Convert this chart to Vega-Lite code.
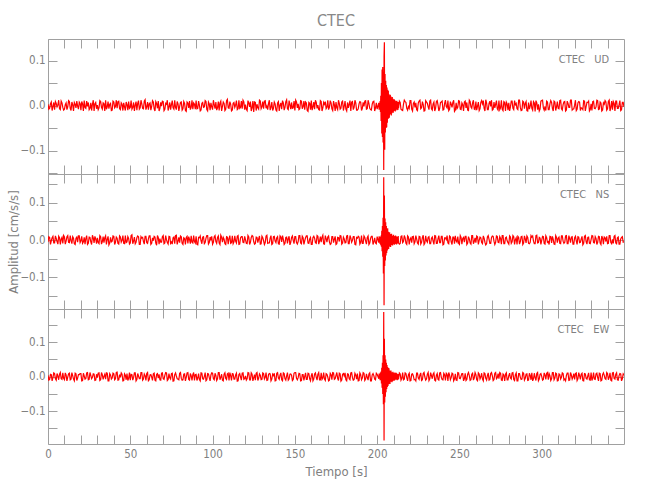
{
"$schema": "https://vega.github.io/schema/vega-lite/v6.json",
"padding": {"left": 7, "top": 12, "right": 6, "bottom": 6},
"bounds": "flush",
"spacing": 0,
"title": {"text": "CTEC", "fontSize": 16, "fontWeight": "normal", "color": "#888888", "font": "Liberation Sans Narrow, DejaVu Sans Condensed, Liberation Sans, sans-serif", "anchor": "middle", "frame": "group", "offset": 10},
"config": {
  "view": {"stroke": null},
  "axis": {"grid": false, "domainColor": "#a0a0a0", "tickColor": "#a0a0a0", "domainWidth": 1, "tickWidth": 1, "labelColor": "#808080", "titleColor": "#808080", "labelFont": "Liberation Sans Narrow, DejaVu Sans Condensed, Liberation Sans, sans-serif", "titleFont": "Liberation Sans Narrow, DejaVu Sans Condensed, Liberation Sans, sans-serif", "labelFontSize": 11.5, "titleFontSize": 13, "titleFontWeight": "normal", "labelOverlap": false, "labelFlush": false, "labelBound": false}
},
"data": {"values": [
{"t":0,"u":0.003,"n":-0.005,"e":0.004},
{"t":1,"u":-0.006,"n":0.007,"e":-0.008},
{"t":2,"u":0.008,"n":-0.002,"e":0.006},
{"t":3,"u":-0.002,"n":0.010,"e":-0.003},
{"t":4,"u":-0.009,"n":-0.008,"e":0.009},
{"t":5,"u":0.005,"n":0.004,"e":-0.010},
{"t":6,"u":0.001,"n":-0.011,"e":0.002},
{"t":7,"u":-0.007,"n":0.006,"e":0.007},
{"t":8,"u":0.010,"n":0.002,"e":-0.006},
{"t":9,"u":-0.004,"n":-0.009,"e":0.011},
{"t":10,"u":-0.008,"n":0.008,"e":-0.009},
{"t":11,"u":0.006,"n":-0.003,"e":0.005},
{"t":12,"u":-0.003,"n":0.012,"e":-0.001},
{"t":13,"u":0.009,"n":-0.007,"e":0.010},
{"t":14,"u":-0.011,"n":-0.001,"e":-0.007},
{"t":15,"u":0.002,"n":0.009,"e":0.003},
{"t":16,"u":0.007,"n":-0.010,"e":-0.012},
{"t":17,"u":-0.005,"n":0.005,"e":0.008},
{"t":18,"u":-0.001,"n":-0.006,"e":-0.004},
{"t":19,"u":0.008,"n":0.011,"e":0.006},
{"t":20,"u":-0.010,"n":-0.002,"e":0.009},
{"t":21,"u":0.004,"n":-0.009,"e":-0.011},
{"t":22,"u":0.011,"n":0.007,"e":0.002},
{"t":23,"u":-0.006,"n":0.004,"e":-0.005},
{"t":24,"u":-0.002,"n":-0.012,"e":0.012},
{"t":25,"u":-0.009,"n":0.008,"e":-0.008},
{"t":26,"u":0.006,"n":-0.005,"e":0.004},
{"t":27,"u":0.003,"n":0.013,"e":-0.002},
{"t":28,"u":-0.012,"n":-0.008,"e":0.007},
{"t":29,"u":0.007,"n":0.003,"e":-0.010},
{"t":30,"u":0.001,"n":0.006,"e":-0.003},
{"t":31,"u":-0.005,"n":-0.010,"e":0.011},
{"t":32,"u":0.009,"n":0.009,"e":-0.009},
{"t":33,"u":-0.008,"n":-0.004,"e":0.006},
{"t":34,"u":0.004,"n":-0.007,"e":0.001},
{"t":35,"u":0.012,"n":0.011,"e":-0.007},
{"t":36,"u":-0.003,"n":0.002,"e":0.010},
{"t":37,"u":-0.007,"n":-0.013,"e":-0.012},
{"t":38,"u":0.005,"n":0.007,"e":0.005},
{"t":39,"u":-0.010,"n":-0.003,"e":-0.004},
{"t":40,"u":0.008,"n":0.010,"e":0.008},
{"t":41,"u":-0.002,"n":-0.006,"e":-0.006},
{"t":42,"u":-0.006,"n":0.005,"e":0.013},
{"t":43,"u":0.010,"n":-0.011,"e":-0.009},
{"t":44,"u":-0.009,"n":0.008,"e":-0.002},
{"t":45,"u":0.003,"n":-0.001,"e":0.007},
{"t":46,"u":0.006,"n":-0.009,"e":-0.011},
{"t":47,"u":-0.011,"n":0.012,"e":0.004},
{"t":48,"u":0.002,"n":-0.005,"e":0.009},
{"t":49,"u":0.009,"n":0.004,"e":-0.005},
{"t":50,"u":-0.004,"n":-0.008,"e":-0.010},
{"t":51,"u":-0.008,"n":0.014,"e":0.006},
{"t":52,"u":0.007,"n":-0.003,"e":-0.003},
{"t":53,"u":0.001,"n":-0.010,"e":0.011},
{"t":54,"u":-0.010,"n":0.006,"e":-0.008},
{"t":55,"u":0.011,"n":0.009,"e":0.002},
{"t":56,"u":-0.005,"n":-0.012,"e":-0.006},
{"t":57,"u":0.004,"n":0.005,"e":0.012},
{"t":58,"u":-0.007,"n":-0.004,"e":-0.007},
{"t":59,"u":0.013,"n":0.010,"e":0.003},
{"t":60,"u":-0.003,"n":-0.007,"e":0.009},
{"t":61,"u":-0.009,"n":0.003,"e":-0.012},
{"t":62,"u":0.006,"n":0.011,"e":0.005},
{"t":63,"u":-0.002,"n":-0.009,"e":-0.001},
{"t":64,"u":0.008,"n":-0.002,"e":0.008},
{"t":65,"u":-0.012,"n":0.008,"e":-0.010},
{"t":66,"u":0.005,"n":-0.014,"e":0.007},
{"t":67,"u":0.010,"n":0.007,"e":-0.004},
{"t":68,"u":-0.006,"n":0.004,"e":-0.009},
{"t":69,"u":-0.001,"n":-0.006,"e":0.010},
{"t":70,"u":0.009,"n":0.012,"e":-0.006},
{"t":71,"u":-0.008,"n":-0.008,"e":0.004},
{"t":72,"u":0.003,"n":0.001,"e":0.011},
{"t":73,"u":-0.011,"n":-0.011,"e":-0.008},
{"t":74,"u":0.007,"n":0.009,"e":-0.003},
{"t":75,"u":0.002,"n":-0.005,"e":0.009},
{"t":76,"u":-0.005,"n":0.006,"e":-0.013},
{"t":77,"u":0.012,"n":-0.010,"e":0.006},
{"t":78,"u":-0.009,"n":0.013,"e":0.002},
{"t":79,"u":0.004,"n":-0.003,"e":-0.007},
{"t":80,"u":-0.002,"n":-0.007,"e":0.010},
{"t":81,"u":0.008,"n":0.009,"e":-0.005},
{"t":82,"u":-0.007,"n":-0.012,"e":-0.009},
{"t":83,"u":0.005,"n":0.004,"e":0.008},
{"t":84,"u":-0.013,"n":0.007,"e":-0.002},
{"t":85,"u":0.006,"n":-0.009,"e":0.012},
{"t":86,"u":0.010,"n":0.002,"e":-0.010},
{"t":87,"u":-0.004,"n":0.011,"e":0.003},
{"t":88,"u":-0.008,"n":-0.008,"e":0.006},
{"t":89,"u":0.003,"n":-0.004,"e":-0.011},
{"t":90,"u":0.011,"n":0.010,"e":0.007},
{"t":91,"u":-0.006,"n":-0.013,"e":-0.004},
{"t":92,"u":0.001,"n":0.006,"e":-0.008},
{"t":93,"u":-0.010,"n":-0.002,"e":0.011},
{"t":94,"u":0.007,"n":0.008,"e":-0.006},
{"t":95,"u":-0.003,"n":-0.010,"e":0.001},
{"t":96,"u":0.009,"n":0.005,"e":-0.012},
{"t":97,"u":-0.012,"n":0.012,"e":0.009},
{"t":98,"u":0.004,"n":-0.007,"e":-0.003},
{"t":99,"u":0.006,"n":0.001,"e":0.005},
{"t":100,"u":-0.009,"n":-0.011,"e":0.010},
{"t":101,"u":0.002,"n":0.009,"e":-0.009},
{"t":102,"u":0.008,"n":-0.004,"e":0.004},
{"t":103,"u":-0.005,"n":0.007,"e":-0.006},
{"t":104,"u":-0.011,"n":-0.008,"e":0.012},
{"t":105,"u":0.010,"n":0.013,"e":-0.002},
{"t":106,"u":-0.002,"n":-0.006,"e":-0.010},
{"t":107,"u":0.005,"n":0.002,"e":0.007},
{"t":108,"u":-0.008,"n":-0.012,"e":-0.005},
{"t":109,"u":0.014,"n":0.008,"e":0.008},
{"t":110,"u":-0.006,"n":0.004,"e":-0.011},
{"t":111,"u":0.003,"n":-0.009,"e":0.003},
{"t":112,"u":-0.010,"n":0.011,"e":0.009},
{"t":113,"u":0.007,"n":-0.005,"e":-0.007},
{"t":114,"u":0.001,"n":-0.003,"e":0.005},
{"t":115,"u":-0.009,"n":0.010,"e":-0.013},
{"t":116,"u":0.012,"n":-0.012,"e":0.006},
{"t":117,"u":-0.004,"n":0.006,"e":-0.001},
{"t":118,"u":-0.007,"n":0.009,"e":0.010},
{"t":119,"u":0.008,"n":-0.007,"e":-0.008},
{"t":120,"u":0.002,"n":0.001,"e":0.002},
{"t":121,"u":-0.011,"n":-0.010,"e":-0.006},
{"t":122,"u":0.006,"n":0.008,"e":0.011},
{"t":123,"u":0.009,"n":-0.006,"e":-0.009},
{"t":124,"u":-0.005,"n":0.012,"e":0.007},
{"t":125,"u":-0.014,"n":-0.004,"e":-0.003},
{"t":126,"u":0.007,"n":-0.009,"e":-0.010},
{"t":127,"u":0.003,"n":0.007,"e":0.012},
{"t":128,"u":-0.008,"n":0.003,"e":-0.005},
{"t":129,"u":0.010,"n":-0.011,"e":0.004},
{"t":130,"u":-0.003,"n":0.010,"e":-0.008},
{"t":131,"u":-0.007,"n":-0.002,"e":0.009},
{"t":132,"u":0.011,"n":-0.007,"e":-0.002},
{"t":133,"u":-0.001,"n":0.013,"e":-0.011},
{"t":134,"u":0.005,"n":-0.008,"e":0.006},
{"t":135,"u":-0.010,"n":0.005,"e":0.008},
{"t":136,"u":0.008,"n":-0.012,"e":-0.007},
{"t":137,"u":-0.006,"n":0.009,"e":0.003},
{"t":138,"u":0.004,"n":-0.003,"e":-0.012},
{"t":139,"u":-0.012,"n":0.006,"e":0.010},
{"t":140,"u":0.009,"n":-0.010,"e":-0.004},
{"t":141,"u":0.001,"n":0.011,"e":0.005},
{"t":142,"u":-0.008,"n":-0.005,"e":-0.009},
{"t":143,"u":0.006,"n":0.002,"e":0.011},
{"t":144,"u":-0.004,"n":-0.009,"e":-0.006},
{"t":145,"u":0.013,"n":0.008,"e":0.002},
{"t":146,"u":-0.009,"n":0.004,"e":-0.010},
{"t":147,"u":0.002,"n":-0.013,"e":0.007},
{"t":148,"u":0.007,"n":0.007,"e":0.004},
{"t":149,"u":-0.005,"n":-0.001,"e":-0.008},
{"t":150,"u":-0.011,"n":0.009,"e":0.012},
{"t":151,"u":0.008,"n":-0.007,"e":-0.005},
{"t":152,"u":0.004,"n":-0.004,"e":-0.003},
{"t":153,"u":-0.007,"n":0.012,"e":0.009},
{"t":154,"u":0.010,"n":-0.010,"e":-0.011},
{"t":155,"u":-0.002,"n":0.006,"e":0.006},
{"t":156,"u":-0.009,"n":-0.002,"e":0.001},
{"t":157,"u":0.006,"n":0.011,"e":-0.008},
{"t":158,"u":-0.013,"n":-0.008,"e":0.010},
{"t":159,"u":0.005,"n":0.003,"e":-0.006},
{"t":160,"u":0.011,"n":-0.012,"e":0.003},
{"t":161,"u":-0.003,"n":0.007,"e":-0.012},
{"t":162,"u":-0.008,"n":0.005,"e":0.008},
{"t":163,"u":0.007,"n":-0.009,"e":-0.002},
{"t":164,"u":0.001,"n":0.010,"e":0.007},
{"t":165,"u":-0.010,"n":-0.003,"e":-0.009},
{"t":166,"u":0.009,"n":-0.006,"e":0.011},
{"t":167,"u":-0.005,"n":0.013,"e":-0.004},
{"t":168,"u":0.003,"n":-0.011,"e":-0.007},
{"t":169,"u":-0.007,"n":0.004,"e":0.009},
{"t":170,"u":0.012,"n":0.008,"e":-0.001},
{"t":171,"u":-0.004,"n":-0.005,"e":-0.010},
{"t":172,"u":0.006,"n":-0.010,"e":0.006},
{"t":173,"u":-0.011,"n":0.009,"e":0.012},
{"t":174,"u":0.002,"n":0.002,"e":-0.008},
{"t":175,"u":0.008,"n":-0.012,"e":0.004},
{"t":176,"u":-0.009,"n":0.007,"e":-0.005},
{"t":177,"u":0.005,"n":-0.004,"e":0.010},
{"t":178,"u":-0.006,"n":0.011,"e":-0.013},
{"t":179,"u":0.010,"n":-0.008,"e":0.007},
{"t":180,"u":-0.001,"n":0.003,"e":0.002},
{"t":181,"u":-0.008,"n":-0.007,"e":-0.009},
{"t":182,"u":0.007,"n":0.012,"e":0.008},
{"t":183,"u":0.003,"n":-0.010,"e":-0.006},
{"t":184,"u":-0.012,"n":0.006,"e":0.011},
{"t":185,"u":0.009,"n":-0.001,"e":-0.003},
{"t":186,"u":-0.004,"n":0.009,"e":-0.008},
{"t":187,"u":0.006,"n":-0.013,"e":0.005},
{"t":188,"u":-0.010,"n":0.005,"e":0.009},
{"t":189,"u":0.004,"n":0.008,"e":-0.011},
{"t":190,"u":0.008,"n":-0.006,"e":0.006},
{"t":191,"u":-0.006,"n":-0.009,"e":-0.004},
{"t":192,"u":-0.002,"n":0.011,"e":0.010},
{"t":193,"u":0.011,"n":-0.003,"e":-0.007},
{"t":194,"u":-0.007,"n":0.007,"e":-0.002},
{"t":195,"u":0.005,"n":-0.012,"e":0.008},
{"t":196,"u":-0.009,"n":0.004,"e":-0.012},
{"t":197,"u":0.003,"n":0.010,"e":0.005},
{"t":198,"u":0.010,"n":-0.005,"e":0.003},
{"t":199,"u":-0.005,"n":-0.008,"e":-0.009},
{"t":200,"u":-0.008,"n":0.009,"e":0.007},
{"t":201,"u":0.006,"n":-0.007,"e":-0.006},
{"t":201.2,"u":-0.009,"n":0.010,"e":0.009},
{"t":201.4,"u":0.004,"n":-0.005,"e":-0.004},
{"t":201.6,"u":-0.007,"n":0.008,"e":0.007},
{"t":201.8,"u":0.010,"n":-0.011,"e":-0.010},
{"t":202,"u":-0.014,"n":0.009,"e":0.012},
{"t":202.2,"u":0.022,"n":-0.014,"e":-0.009},
{"t":202.4,"u":-0.034,"n":0.012,"e":0.015},
{"t":202.6,"u":0.050,"n":-0.018,"e":-0.020},
{"t":202.8,"u":-0.062,"n":0.025,"e":0.026},
{"t":203,"u":0.080,"n":-0.030,"e":-0.032},
{"t":203.2,"u":-0.070,"n":0.038,"e":0.040},
{"t":203.4,"u":0.086,"n":-0.045,"e":-0.050},
{"t":203.6,"u":-0.082,"n":0.060,"e":0.062},
{"t":203.8,"u":0.075,"n":-0.090,"e":-0.080},
{"t":204,"u":-0.143,"n":0.169,"e":0.187},
{"t":204.2,"u":0.110,"n":-0.176,"e":-0.185},
{"t":204.4,"u":0.141,"n":0.120,"e":0.110},
{"t":204.6,"u":-0.098,"n":-0.070,"e":-0.075},
{"t":204.8,"u":0.070,"n":0.058,"e":0.062},
{"t":205,"u":-0.060,"n":-0.055,"e":-0.058},
{"t":205.2,"u":0.055,"n":0.048,"e":0.050},
{"t":205.4,"u":-0.050,"n":-0.042,"e":-0.045},
{"t":205.6,"u":0.046,"n":0.038,"e":0.040},
{"t":205.8,"u":-0.048,"n":-0.035,"e":-0.036},
{"t":206,"u":0.040,"n":0.030,"e":0.034},
{"t":206.2,"u":-0.038,"n":-0.028,"e":-0.030},
{"t":206.4,"u":0.035,"n":0.032,"e":0.028},
{"t":206.6,"u":-0.030,"n":-0.025,"e":-0.027},
{"t":206.8,"u":0.033,"n":0.022,"e":0.025},
{"t":207,"u":-0.028,"n":-0.024,"e":-0.022},
{"t":207.2,"u":0.025,"n":0.020,"e":0.024},
{"t":207.4,"u":-0.027,"n":-0.018,"e":-0.020},
{"t":207.6,"u":0.022,"n":0.021,"e":0.018},
{"t":207.8,"u":-0.020,"n":-0.017,"e":-0.021},
{"t":208,"u":0.024,"n":0.015,"e":0.017},
{"t":208.2,"u":-0.018,"n":-0.019,"e":-0.015},
{"t":208.4,"u":0.020,"n":0.016,"e":0.018},
{"t":208.6,"u":-0.022,"n":-0.014,"e":-0.014},
{"t":208.8,"u":0.016,"n":0.017,"e":0.013},
{"t":209,"u":-0.017,"n":-0.013,"e":-0.016},
{"t":209.2,"u":0.019,"n":0.012,"e":0.012},
{"t":209.4,"u":-0.014,"n":-0.015,"e":-0.013},
{"t":209.6,"u":0.015,"n":0.011,"e":0.014},
{"t":209.8,"u":-0.016,"n":-0.012,"e":-0.010},
{"t":210,"u":0.013,"n":0.014,"e":0.011},
{"t":210.2,"u":-0.012,"n":-0.010,"e":-0.012},
{"t":210.4,"u":0.014,"n":0.011,"e":0.009},
{"t":210.6,"u":-0.010,"n":-0.013,"e":-0.011},
{"t":210.8,"u":0.012,"n":0.009,"e":0.012},
{"t":211,"u":-0.013,"n":-0.011,"e":-0.008},
{"t":211.2,"u":0.009,"n":0.012,"e":0.010},
{"t":211.4,"u":-0.011,"n":-0.008,"e":-0.009},
{"t":211.6,"u":0.010,"n":0.010,"e":0.011},
{"t":211.8,"u":-0.008,"n":-0.012,"e":-0.007},
{"t":212,"u":0.011,"n":0.007,"e":0.009},
{"t":212.2,"u":-0.009,"n":-0.010,"e":-0.010},
{"t":212.4,"u":0.007,"n":0.009,"e":0.006},
{"t":212.6,"u":-0.010,"n":-0.007,"e":-0.009},
{"t":212.8,"u":0.008,"n":0.011,"e":0.008},
{"t":213,"u":-0.006,"n":-0.008,"e":-0.007},
{"t":214,"u":0.007,"n":-0.009,"e":0.008},
{"t":215,"u":-0.010,"n":0.011,"e":-0.005},
{"t":216,"u":0.003,"n":-0.004,"e":-0.009},
{"t":217,"u":0.009,"n":0.006,"e":0.011},
{"t":218,"u":-0.006,"n":-0.012,"e":-0.003},
{"t":219,"u":-0.002,"n":0.008,"e":0.006},
{"t":220,"u":0.011,"n":0.002,"e":-0.012},
{"t":221,"u":-0.008,"n":-0.007,"e":0.007},
{"t":222,"u":0.005,"n":0.010,"e":0.002},
{"t":223,"u":-0.004,"n":-0.005,"e":-0.008},
{"t":224,"u":-0.009,"n":0.003,"e":0.010},
{"t":225,"u":0.006,"n":-0.011,"e":-0.004},
{"t":226,"u":0.012,"n":0.009,"e":0.005},
{"t":227,"u":-0.005,"n":-0.006,"e":-0.011},
{"t":228,"u":0.002,"n":0.013,"e":0.009},
{"t":229,"u":-0.011,"n":-0.008,"e":-0.001},
{"t":230,"u":0.008,"n":-0.002,"e":-0.007},
{"t":231,"u":-0.003,"n":0.007,"e":0.012},
{"t":232,"u":0.010,"n":-0.010,"e":-0.006},
{"t":233,"u":-0.007,"n":0.005,"e":0.003},
{"t":234,"u":0.004,"n":-0.003,"e":0.007},
{"t":235,"u":-0.012,"n":0.012,"e":-0.010},
{"t":236,"u":0.009,"n":-0.009,"e":0.004},
{"t":237,"u":0.001,"n":0.004,"e":-0.008},
{"t":238,"u":-0.006,"n":-0.007,"e":0.011},
{"t":239,"u":0.008,"n":0.010,"e":-0.002},
{"t":240,"u":-0.010,"n":-0.013,"e":-0.009},
{"t":241,"u":0.005,"n":0.006,"e":0.006},
{"t":242,"u":-0.002,"n":0.001,"e":0.010},
{"t":243,"u":0.011,"n":-0.008,"e":-0.012},
{"t":244,"u":-0.008,"n":0.011,"e":0.005},
{"t":245,"u":0.003,"n":-0.005,"e":-0.003},
{"t":246,"u":0.007,"n":0.008,"e":0.008},
{"t":247,"u":-0.013,"n":-0.010,"e":-0.007},
{"t":248,"u":0.006,"n":-0.002,"e":-0.010},
{"t":249,"u":-0.004,"n":0.009,"e":0.012},
{"t":250,"u":0.010,"n":-0.012,"e":-0.005},
{"t":251,"u":-0.009,"n":0.007,"e":0.002},
{"t":252,"u":0.002,"n":0.004,"e":0.009},
{"t":253,"u":0.008,"n":-0.006,"e":-0.006},
{"t":254,"u":-0.005,"n":0.010,"e":-0.011},
{"t":255,"u":-0.010,"n":-0.008,"e":0.007},
{"t":256,"u":0.012,"n":0.003,"e":0.003},
{"t":257,"u":-0.003,"n":-0.011,"e":-0.009},
{"t":258,"u":0.006,"n":0.012,"e":0.010},
{"t":259,"u":-0.008,"n":-0.004,"e":-0.004},
{"t":260,"u":0.009,"n":-0.007,"e":0.006},
{"t":261,"u":-0.001,"n":0.009,"e":-0.012},
{"t":262,"u":-0.011,"n":-0.001,"e":0.008},
{"t":263,"u":0.007,"n":0.006,"e":-0.001},
{"t":264,"u":0.004,"n":-0.010,"e":-0.007},
{"t":265,"u":-0.006,"n":0.005,"e":0.011},
{"t":266,"u":0.013,"n":-0.013,"e":-0.005},
{"t":267,"u":-0.009,"n":0.008,"e":0.004},
{"t":268,"u":0.005,"n":0.002,"e":-0.010},
{"t":269,"u":-0.002,"n":-0.009,"e":0.009},
{"t":270,"u":-0.010,"n":0.011,"e":0.002},
{"t":271,"u":0.008,"n":-0.003,"e":-0.008},
{"t":272,"u":0.003,"n":-0.006,"e":0.012},
{"t":273,"u":-0.007,"n":0.010,"e":-0.003},
{"t":274,"u":0.011,"n":-0.007,"e":-0.006},
{"t":275,"u":-0.005,"n":0.004,"e":0.010},
{"t":276,"u":-0.008,"n":0.012,"e":-0.011},
{"t":277,"u":0.009,"n":-0.010,"e":0.005},
{"t":278,"u":-0.012,"n":0.006,"e":0.007},
{"t":279,"u":0.004,"n":-0.002,"e":-0.009},
{"t":280,"u":0.006,"n":-0.011,"e":0.003},
{"t":281,"u":-0.003,"n":0.008,"e":-0.004},
{"t":282,"u":0.010,"n":-0.005,"e":0.011},
{"t":283,"u":-0.009,"n":0.009,"e":-0.008},
{"t":284,"u":0.002,"n":0.001,"e":0.006},
{"t":285,"u":-0.007,"n":-0.012,"e":-0.012},
{"t":286,"u":0.012,"n":0.007,"e":0.009},
{"t":287,"u":-0.004,"n":-0.004,"e":-0.002},
{"t":288,"u":-0.010,"n":0.010,"e":-0.007},
{"t":289,"u":0.008,"n":-0.008,"e":0.010},
{"t":290,"u":0.005,"n":0.003,"e":-0.005},
{"t":291,"u":-0.011,"n":0.011,"e":0.008},
{"t":292,"u":0.007,"n":-0.009,"e":-0.010},
{"t":293,"u":-0.001,"n":-0.006,"e":0.004},
{"t":294,"u":-0.006,"n":0.008,"e":0.011},
{"t":295,"u":0.009,"n":-0.003,"e":-0.006},
{"t":296,"u":-0.013,"n":-0.010,"e":-0.003},
{"t":297,"u":0.006,"n":0.013,"e":0.009},
{"t":298,"u":0.003,"n":-0.007,"e":-0.012},
{"t":299,"u":-0.008,"n":0.005,"e":0.007},
{"t":300,"u":0.011,"n":-0.001,"e":0.001},
{"t":301,"u":-0.005,"n":0.009,"e":-0.008},
{"t":302,"u":-0.002,"n":-0.011,"e":0.005},
{"t":303,"u":0.010,"n":0.006,"e":0.010},
{"t":304,"u":-0.009,"n":-0.004,"e":-0.009},
{"t":305,"u":0.004,"n":0.010,"e":0.003},
{"t":306,"u":0.007,"n":-0.008,"e":-0.006},
{"t":307,"u":-0.012,"n":0.002,"e":0.012},
{"t":308,"u":0.008,"n":-0.012,"e":-0.004},
{"t":309,"u":-0.003,"n":0.007,"e":0.008},
{"t":310,"u":-0.006,"n":0.005,"e":-0.011},
{"t":311,"u":0.011,"n":-0.009,"e":0.006},
{"t":312,"u":-0.007,"n":0.011,"e":-0.002},
{"t":313,"u":0.002,"n":-0.003,"e":0.009},
{"t":314,"u":0.009,"n":-0.006,"e":-0.007},
{"t":315,"u":-0.010,"n":0.012,"e":0.004},
{"t":316,"u":0.005,"n":-0.010,"e":0.010},
{"t":317,"u":-0.004,"n":0.004,"e":-0.010},
{"t":318,"u":0.012,"n":0.008,"e":0.005},
{"t":319,"u":-0.008,"n":-0.011,"e":-0.001},
{"t":320,"u":0.001,"n":0.006,"e":-0.008},
{"t":321,"u":-0.011,"n":-0.002,"e":0.011},
{"t":322,"u":0.006,"n":0.009,"e":-0.006},
{"t":323,"u":0.008,"n":-0.007,"e":0.003},
{"t":324,"u":-0.005,"n":0.003,"e":0.007},
{"t":325,"u":-0.009,"n":-0.013,"e":-0.011},
{"t":326,"u":0.010,"n":0.010,"e":0.009},
{"t":327,"u":-0.002,"n":-0.005,"e":-0.005},
{"t":328,"u":0.007,"n":0.007,"e":0.002},
{"t":329,"u":-0.012,"n":-0.009,"e":-0.009},
{"t":330,"u":0.004,"n":0.001,"e":0.012},
{"t":331,"u":0.009,"n":0.011,"e":-0.004},
{"t":332,"u":-0.006,"n":-0.008,"e":-0.007},
{"t":333,"u":-0.003,"n":0.004,"e":0.008},
{"t":334,"u":0.011,"n":-0.006,"e":-0.003},
{"t":335,"u":-0.008,"n":0.009,"e":0.010},
{"t":336,"u":0.006,"n":-0.012,"e":-0.012},
{"t":337,"u":-0.010,"n":0.005,"e":0.006},
{"t":338,"u":0.003,"n":0.008,"e":0.004},
{"t":339,"u":0.008,"n":-0.004,"e":-0.008},
{"t":340,"u":-0.007,"n":-0.010,"e":0.009},
{"t":341,"u":0.012,"n":0.012,"e":-0.002},
{"t":342,"u":-0.004,"n":-0.007,"e":-0.010},
{"t":343,"u":-0.009,"n":0.002,"e":0.011},
{"t":344,"u":0.005,"n":0.010,"e":-0.005},
{"t":345,"u":0.010,"n":-0.008,"e":0.007},
{"t":346,"u":-0.006,"n":0.006,"e":-0.009},
{"t":347,"u":0.002,"n":-0.011,"e":0.003},
{"t":348,"u":-0.011,"n":0.003,"e":0.008},
{"t":349,"u":0.007,"n":0.009,"e":-0.006},
{"t":350,"u":-0.003,"n":-0.005,"e":0.004},
{"t":0.5,"u":-0.008,"n":0.009,"e":-0.010},
{"t":1.5,"u":0.004,"n":-0.012,"e":0.007},
{"t":2.5,"u":-0.011,"n":0.006,"e":-0.012},
{"t":3.5,"u":0.007,"n":-0.008,"e":0.011},
{"t":4.5,"u":0.009,"n":0.011,"e":-0.006},
{"t":5.5,"u":-0.003,"n":-0.004,"e":0.009},
{"t":6.5,"u":0.012,"n":0.010,"e":-0.009},
{"t":7.5,"u":-0.009,"n":-0.012,"e":0.012},
{"t":8.5,"u":0.006,"n":0.007,"e":-0.008},
{"t":9.5,"u":-0.010,"n":0.012,"e":-0.005},
{"t":10.5,"u":0.002,"n":-0.011,"e":0.011},
{"t":11.5,"u":-0.009,"n":0.009,"e":-0.012},
{"t":12.5,"u":0.011,"n":-0.006,"e":0.008},
{"t":13.5,"u":-0.006,"n":0.012,"e":-0.009},
{"t":14.5,"u":0.008,"n":-0.010,"e":0.012},
{"t":15.5,"u":-0.012,"n":0.005,"e":-0.007},
{"t":16.5,"u":0.003,"n":-0.012,"e":0.010},
{"t":17.5,"u":0.010,"n":0.008,"e":-0.011},
{"t":18.5,"u":-0.008,"n":0.011,"e":0.006},
{"t":19.5,"u":0.005,"n":-0.007,"e":0.009},
{"t":20.5,"u":0.009,"n":0.010,"e":-0.012},
{"t":21.5,"u":-0.012,"n":-0.005,"e":0.010},
{"t":22.5,"u":-0.004,"n":-0.011,"e":-0.007},
{"t":23.5,"u":0.010,"n":0.012,"e":0.011},
{"t":24.5,"u":0.007,"n":-0.009,"e":-0.009},
{"t":25.5,"u":-0.006,"n":0.007,"e":0.012},
{"t":26.5,"u":-0.011,"n":-0.012,"e":-0.006},
{"t":27.5,"u":0.012,"n":0.006,"e":0.008},
{"t":28.5,"u":0.004,"n":0.010,"e":-0.011},
{"t":29.5,"u":-0.007,"n":-0.010,"e":0.007},
{"t":30.5,"u":-0.009,"n":-0.007,"e":0.010},
{"t":31.5,"u":0.011,"n":0.012,"e":-0.011},
{"t":32.5,"u":-0.004,"n":-0.011,"e":0.012},
{"t":33.5,"u":0.006,"n":0.009,"e":-0.008},
{"t":34.5,"u":-0.012,"n":0.006,"e":0.007},
{"t":35.5,"u":-0.008,"n":-0.012,"e":0.011},
{"t":36.5,"u":0.009,"n":0.010,"e":-0.012},
{"t":37.5,"u":0.003,"n":-0.008,"e":0.009},
{"t":38.5,"u":-0.011,"n":-0.005,"e":-0.007},
{"t":39.5,"u":0.010,"n":0.011,"e":0.010},
{"t":40.5,"u":-0.005,"n":-0.012,"e":-0.009},
{"t":41.5,"u":0.012,"n":0.008,"e":0.012},
{"t":42.5,"u":0.009,"n":-0.009,"e":-0.010},
{"t":43.5,"u":-0.007,"n":0.011,"e":0.006},
{"t":44.5,"u":0.006,"n":-0.006,"e":0.011},
{"t":45.5,"u":-0.011,"n":0.012,"e":-0.012},
{"t":46.5,"u":-0.003,"n":-0.010,"e":0.008},
{"t":47.5,"u":0.008,"n":-0.007,"e":-0.009},
{"t":48.5,"u":-0.010,"n":0.009,"e":-0.011},
{"t":49.5,"u":-0.006,"n":-0.011,"e":0.012},
{"t":50.5,"u":0.011,"n":0.012,"e":0.007},
{"t":51.5,"u":-0.004,"n":-0.010,"e":-0.010},
{"t":52.5,"u":-0.012,"n":0.008,"e":0.011},
{"t":53.5,"u":0.009,"n":-0.006,"e":-0.012},
{"t":54.5,"u":0.005,"n":0.011,"e":0.009},
{"t":55.5,"u":-0.008,"n":-0.012,"e":-0.006},
{"t":56.5,"u":0.012,"n":0.009,"e":0.012},
{"t":57.5,"u":-0.006,"n":0.007,"e":-0.010},
{"t":58.5,"u":0.010,"n":-0.011,"e":0.008},
{"t":59.5,"u":-0.009,"n":0.010,"e":-0.011},
{"t":60.5,"u":0.008,"n":-0.009,"e":0.012},
{"t":61.5,"u":0.004,"n":0.011,"e":-0.009},
{"t":62.5,"u":-0.010,"n":-0.012,"e":0.006},
{"t":63.5,"u":0.011,"n":0.006,"e":-0.011},
{"t":64.5,"u":-0.007,"n":0.010,"e":0.010},
{"t":65.5,"u":0.009,"n":-0.008,"e":-0.012},
{"t":66.5,"u":-0.006,"n":0.012,"e":0.009},
{"t":67.5,"u":-0.012,"n":-0.011,"e":0.007},
{"t":68.5,"u":0.007,"n":-0.006,"e":-0.010},
{"t":69.5,"u":0.010,"n":0.009,"e":0.011},
{"t":70.5,"u":-0.011,"n":-0.010,"e":-0.008},
{"t":71.5,"u":0.005,"n":0.012,"e":0.012},
{"t":72.5,"u":0.012,"n":-0.007,"e":-0.011},
{"t":73.5,"u":-0.003,"n":0.010,"e":0.009},
{"t":74.5,"u":-0.009,"n":-0.009,"e":-0.007},
{"t":75.5,"u":0.011,"n":-0.011,"e":0.010},
{"t":76.5,"u":-0.008,"n":0.008,"e":-0.012},
{"t":77.5,"u":-0.004,"n":0.012,"e":0.011},
{"t":78.5,"u":0.009,"n":-0.012,"e":-0.006},
{"t":79.5,"u":-0.012,"n":0.007,"e":-0.009},
{"t":80.5,"u":0.007,"n":0.011,"e":0.012},
{"t":81.5,"u":-0.010,"n":-0.009,"e":-0.010},
{"t":82.5,"u":0.009,"n":0.006,"e":0.007},
{"t":83.5,"u":-0.011,"n":-0.012,"e":-0.012},
{"t":84.5,"u":0.008,"n":0.010,"e":0.011},
{"t":85.5,"u":-0.005,"n":0.009,"e":-0.008},
{"t":86.5,"u":-0.009,"n":-0.010,"e":0.009},
{"t":87.5,"u":0.012,"n":-0.006,"e":-0.011},
{"t":88.5,"u":0.006,"n":0.012,"e":0.012},
{"t":89.5,"u":-0.008,"n":-0.008,"e":0.006},
{"t":90.5,"u":-0.007,"n":-0.012,"e":-0.011},
{"t":91.5,"u":0.010,"n":0.007,"e":0.009},
{"t":92.5,"u":-0.012,"n":0.011,"e":-0.012},
{"t":93.5,"u":0.005,"n":-0.010,"e":0.010},
{"t":94.5,"u":-0.004,"n":0.009,"e":-0.007},
{"t":95.5,"u":0.011,"n":-0.007,"e":0.012},
{"t":96.5,"u":-0.009,"n":0.012,"e":-0.009},
{"t":97.5,"u":0.008,"n":-0.011,"e":0.008},
{"t":98.5,"u":-0.010,"n":0.008,"e":-0.012},
{"t":99.5,"u":-0.003,"n":0.010,"e":0.011},
{"t":100.5,"u":0.012,"n":-0.006,"e":-0.006},
{"t":101.5,"u":-0.007,"n":0.012,"e":0.010},
{"t":102.5,"u":-0.010,"n":-0.009,"e":-0.011},
{"t":103.5,"u":0.009,"n":0.011,"e":0.012},
{"t":104.5,"u":0.006,"n":-0.012,"e":-0.009},
{"t":105.5,"u":-0.012,"n":0.008,"e":0.007},
{"t":106.5,"u":0.008,"n":0.007,"e":-0.012},
{"t":107.5,"u":-0.011,"n":-0.010,"e":0.011},
{"t":108.5,"u":0.011,"n":0.009,"e":-0.008},
{"t":109.5,"u":-0.005,"n":-0.011,"e":0.010},
{"t":110.5,"u":0.009,"n":0.012,"e":0.012},
{"t":111.5,"u":-0.012,"n":-0.007,"e":-0.011},
{"t":112.5,"u":0.005,"n":-0.010,"e":0.008},
{"t":113.5,"u":-0.004,"n":0.011,"e":-0.007},
{"t":114.5,"u":0.011,"n":-0.008,"e":0.010},
{"t":115.5,"u":-0.007,"n":0.012,"e":-0.012},
{"t":116.5,"u":-0.006,"n":-0.011,"e":0.009},
{"t":117.5,"u":0.010,"n":0.009,"e":-0.010},
{"t":118.5,"u":0.012,"n":-0.006,"e":0.011},
{"t":119.5,"u":-0.009,"n":0.010,"e":-0.006},
{"t":120.5,"u":-0.008,"n":-0.009,"e":-0.010},
{"t":121.5,"u":0.011,"n":0.012,"e":0.012},
{"t":122.5,"u":-0.003,"n":-0.012,"e":-0.009},
{"t":123.5,"u":-0.012,"n":0.007,"e":0.011},
{"t":124.5,"u":0.010,"n":0.010,"e":-0.012},
{"t":125.5,"u":0.008,"n":-0.011,"e":0.006},
{"t":126.5,"u":-0.011,"n":0.008,"e":0.010},
{"t":127.5,"u":-0.005,"n":-0.007,"e":-0.011},
{"t":128.5,"u":0.012,"n":0.011,"e":0.008},
{"t":129.5,"u":-0.007,"n":-0.010,"e":-0.009},
{"t":130.5,"u":0.009,"n":0.006,"e":0.011},
{"t":131.5,"u":0.010,"n":-0.012,"e":-0.007},
{"t":132.5,"u":-0.006,"n":0.011,"e":0.012},
{"t":133.5,"u":-0.009,"n":-0.009,"e":-0.010},
{"t":134.5,"u":0.012,"n":-0.008,"e":0.009},
{"t":135.5,"u":-0.004,"n":0.012,"e":-0.012},
{"t":136.5,"u":-0.011,"n":-0.010,"e":0.007},
{"t":137.5,"u":0.008,"n":0.010,"e":0.010},
{"t":138.5,"u":-0.010,"n":-0.007,"e":-0.011},
{"t":139.5,"u":0.006,"n":0.009,"e":0.012},
{"t":140.5,"u":-0.012,"n":-0.011,"e":-0.008},
{"t":141.5,"u":0.006,"n":0.008,"e":0.011},
{"t":142.5,"u":0.011,"n":0.012,"e":-0.012},
{"t":143.5,"u":-0.010,"n":-0.012,"e":0.009},
{"t":144.5,"u":0.009,"n":0.007,"e":-0.010},
{"t":145.5,"u":-0.007,"n":-0.009,"e":0.012},
{"t":146.5,"u":0.011,"n":0.010,"e":-0.007},
{"t":147.5,"u":-0.008,"n":-0.006,"e":0.008},
{"t":148.5,"u":-0.006,"n":0.011,"e":-0.011},
{"t":149.5,"u":0.010,"n":-0.010,"e":0.010},
{"t":150.5,"u":0.012,"n":0.009,"e":0.012},
{"t":151.5,"u":-0.005,"n":-0.011,"e":-0.009},
{"t":152.5,"u":-0.009,"n":0.012,"e":0.010},
{"t":153.5,"u":0.011,"n":-0.008,"e":-0.012},
{"t":154.5,"u":-0.007,"n":0.010,"e":0.006},
{"t":155.5,"u":0.010,"n":-0.012,"e":-0.011},
{"t":156.5,"u":0.008,"n":0.006,"e":0.011},
{"t":157.5,"u":-0.011,"n":0.011,"e":-0.008},
{"t":158.5,"u":0.007,"n":-0.009,"e":0.009},
{"t":159.5,"u":-0.009,"n":0.007,"e":-0.012},
{"t":160.5,"u":-0.010,"n":-0.012,"e":0.010},
{"t":161.5,"u":0.008,"n":0.010,"e":-0.007},
{"t":162.5,"u":0.012,"n":-0.007,"e":0.011},
{"t":163.5,"u":-0.006,"n":0.012,"e":-0.010},
{"t":164.5,"u":-0.009,"n":-0.011,"e":0.012},
{"t":165.5,"u":0.011,"n":0.009,"e":-0.009},
{"t":166.5,"u":-0.012,"n":0.008,"e":-0.008},
{"t":167.5,"u":0.007,"n":-0.010,"e":0.012},
{"t":168.5,"u":0.009,"n":0.012,"e":-0.011},
{"t":169.5,"u":-0.004,"n":-0.006,"e":0.007},
{"t":170.5,"u":-0.009,"n":0.011,"e":-0.012},
{"t":171.5,"u":0.011,"n":-0.012,"e":0.010},
{"t":172.5,"u":-0.007,"n":0.009,"e":-0.009},
{"t":173.5,"u":0.010,"n":-0.007,"e":0.011},
{"t":174.5,"u":-0.012,"n":0.010,"e":-0.006},
{"t":175.5,"u":-0.005,"n":-0.010,"e":0.012},
{"t":176.5,"u":0.012,"n":0.006,"e":-0.011},
{"t":177.5,"u":-0.008,"n":0.012,"e":0.008},
{"t":178.5,"u":0.008,"n":-0.011,"e":-0.010},
{"t":179.5,"u":-0.011,"n":0.008,"e":0.009},
{"t":180.5,"u":0.010,"n":-0.008,"e":0.011},
{"t":181.5,"u":-0.012,"n":0.011,"e":-0.012},
{"t":182.5,"u":-0.005,"n":-0.010,"e":0.007},
{"t":183.5,"u":0.011,"n":0.012,"e":-0.009},
{"t":184.5,"u":0.008,"n":-0.006,"e":0.012},
{"t":185.5,"u":-0.009,"n":0.009,"e":-0.010},
{"t":186.5,"u":0.012,"n":-0.012,"e":0.010},
{"t":187.5,"u":-0.010,"n":0.007,"e":-0.007},
{"t":188.5,"u":-0.007,"n":0.010,"e":-0.012},
{"t":189.5,"u":0.009,"n":-0.011,"e":0.011},
{"t":190.5,"u":-0.011,"n":0.012,"e":-0.009},
{"t":191.5,"u":0.007,"n":-0.009,"e":0.012},
{"t":192.5,"u":0.010,"n":0.007,"e":-0.011},
{"t":193.5,"u":-0.008,"n":-0.011,"e":0.008},
{"t":194.5,"u":0.012,"n":0.011,"e":-0.010},
{"t":195.5,"u":-0.006,"n":-0.008,"e":0.011},
{"t":196.5,"u":-0.010,"n":0.010,"e":-0.012},
{"t":197.5,"u":0.009,"n":-0.012,"e":0.009},
{"t":198.5,"u":-0.012,"n":0.006,"e":-0.007},
{"t":199.5,"u":0.006,"n":-0.010,"e":0.010},
{"t":213.5,"u":0.010,"n":-0.011,"e":0.011},
{"t":214.5,"u":-0.008,"n":0.010,"e":-0.010},
{"t":215.5,"u":-0.011,"n":-0.007,"e":0.012},
{"t":216.5,"u":0.012,"n":0.012,"e":-0.007},
{"t":217.5,"u":0.007,"n":-0.009,"e":0.009},
{"t":218.5,"u":-0.010,"n":0.011,"e":-0.012},
{"t":219.5,"u":-0.006,"n":-0.012,"e":0.010},
{"t":220.5,"u":0.011,"n":0.006,"e":-0.011},
{"t":221.5,"u":-0.012,"n":0.009,"e":0.008},
{"t":222.5,"u":0.008,"n":-0.010,"e":-0.009},
{"t":223.5,"u":0.006,"n":0.012,"e":-0.012},
{"t":224.5,"u":-0.011,"n":-0.008,"e":0.010},
{"t":225.5,"u":0.010,"n":0.010,"e":-0.008},
{"t":226.5,"u":-0.007,"n":-0.011,"e":0.011},
{"t":227.5,"u":0.009,"n":0.007,"e":-0.009},
{"t":228.5,"u":-0.012,"n":-0.012,"e":0.012},
{"t":229.5,"u":0.011,"n":0.011,"e":-0.010},
{"t":230.5,"u":0.005,"n":-0.006,"e":0.007},
{"t":231.5,"u":-0.009,"n":0.009,"e":-0.011},
{"t":232.5,"u":0.012,"n":-0.010,"e":0.012},
{"t":233.5,"u":-0.010,"n":0.008,"e":-0.006},
{"t":234.5,"u":0.008,"n":-0.012,"e":0.011},
{"t":235.5,"u":-0.006,"n":0.011,"e":-0.012},
{"t":236.5,"u":0.011,"n":-0.009,"e":0.009},
{"t":237.5,"u":-0.012,"n":0.012,"e":-0.010},
{"t":238.5,"u":0.007,"n":-0.007,"e":0.012},
{"t":239.5,"u":0.010,"n":0.010,"e":-0.008},
{"t":240.5,"u":-0.009,"n":-0.011,"e":0.010},
{"t":241.5,"u":0.012,"n":0.006,"e":-0.011},
{"t":242.5,"u":-0.005,"n":0.012,"e":0.007},
{"t":243.5,"u":-0.011,"n":-0.010,"e":0.012},
{"t":244.5,"u":0.009,"n":0.009,"e":-0.009},
{"t":245.5,"u":-0.004,"n":-0.012,"e":0.010},
{"t":246.5,"u":0.012,"n":0.008,"e":-0.012},
{"t":247.5,"u":-0.010,"n":0.011,"e":0.008},
{"t":248.5,"u":-0.007,"n":-0.006,"e":-0.011},
{"t":249.5,"u":0.011,"n":-0.009,"e":0.011},
{"t":250.5,"u":-0.008,"n":0.012,"e":-0.006},
{"t":251.5,"u":0.006,"n":-0.011,"e":0.009},
{"t":252.5,"u":-0.012,"n":0.007,"e":-0.012},
{"t":253.5,"u":0.010,"n":0.010,"e":0.010},
{"t":254.5,"u":0.007,"n":-0.012,"e":-0.008},
{"t":255.5,"u":-0.011,"n":0.009,"e":0.012},
{"t":256.5,"u":0.009,"n":-0.008,"e":-0.011},
{"t":257.5,"u":-0.006,"n":0.012,"e":0.007},
{"t":258.5,"u":0.012,"n":-0.010,"e":-0.010},
{"t":259.5,"u":-0.009,"n":0.006,"e":0.012},
{"t":260.5,"u":-0.010,"n":0.011,"e":-0.009},
{"t":261.5,"u":0.008,"n":-0.012,"e":0.011},
{"t":262.5,"u":-0.007,"n":0.008,"e":-0.007},
{"t":263.5,"u":0.011,"n":-0.007,"e":0.010},
{"t":264.5,"u":0.011,"n":0.011,"e":-0.012},
{"t":265.5,"u":-0.012,"n":-0.006,"e":0.009},
{"t":266.5,"u":0.006,"n":-0.010,"e":-0.010},
{"t":267.5,"u":-0.009,"n":0.012,"e":0.011},
{"t":268.5,"u":0.010,"n":-0.009,"e":-0.008},
{"t":269.5,"u":0.012,"n":0.007,"e":0.012},
{"t":270.5,"u":-0.008,"n":0.010,"e":-0.011},
{"t":271.5,"u":-0.005,"n":-0.012,"e":0.010},
{"t":272.5,"u":0.011,"n":0.011,"e":-0.006},
{"t":273.5,"u":-0.010,"n":-0.006,"e":0.009},
{"t":274.5,"u":-0.009,"n":0.009,"e":0.012},
{"t":275.5,"u":0.012,"n":-0.011,"e":-0.010},
{"t":276.5,"u":-0.011,"n":0.012,"e":0.008},
{"t":277.5,"u":0.007,"n":-0.010,"e":-0.012},
{"t":278.5,"u":0.008,"n":0.008,"e":0.011},
{"t":279.5,"u":-0.010,"n":-0.007,"e":-0.009},
{"t":280.5,"u":-0.012,"n":0.011,"e":0.010},
{"t":281.5,"u":0.010,"n":-0.009,"e":-0.007},
{"t":282.5,"u":-0.006,"n":0.012,"e":0.012},
{"t":283.5,"u":0.011,"n":-0.012,"e":-0.011},
{"t":284.5,"u":0.005,"n":0.006,"e":0.011},
{"t":285.5,"u":-0.009,"n":0.010,"e":-0.012},
{"t":286.5,"u":0.012,"n":-0.011,"e":0.009},
{"t":287.5,"u":-0.011,"n":0.009,"e":-0.008},
{"t":288.5,"u":0.010,"n":-0.012,"e":0.012},
{"t":289.5,"u":-0.007,"n":0.011,"e":-0.010},
{"t":290.5,"u":0.009,"n":-0.008,"e":0.007},
{"t":291.5,"u":-0.012,"n":0.007,"e":-0.011},
{"t":292.5,"u":-0.008,"n":-0.010,"e":0.010},
{"t":293.5,"u":0.011,"n":0.012,"e":-0.009},
{"t":294.5,"u":-0.010,"n":0.011,"e":-0.012},
{"t":295.5,"u":0.006,"n":-0.010,"e":0.010},
{"t":296.5,"u":0.011,"n":0.012,"e":-0.011},
{"t":297.5,"u":-0.009,"n":-0.008,"e":0.012},
{"t":298.5,"u":-0.012,"n":0.007,"e":-0.007},
{"t":299.5,"u":0.010,"n":-0.012,"e":0.009},
{"t":300.5,"u":0.012,"n":0.010,"e":-0.010},
{"t":301.5,"u":-0.010,"n":-0.009,"e":0.011},
{"t":302.5,"u":-0.011,"n":0.011,"e":-0.008},
{"t":303.5,"u":0.008,"n":-0.006,"e":0.012},
{"t":304.5,"u":-0.009,"n":-0.012,"e":0.009},
{"t":305.5,"u":0.011,"n":0.009,"e":-0.011},
{"t":306.5,"u":-0.006,"n":0.010,"e":0.012},
{"t":307.5,"u":0.010,"n":-0.011,"e":-0.009},
{"t":308.5,"u":-0.011,"n":0.012,"e":0.010},
{"t":309.5,"u":0.009,"n":-0.007,"e":-0.012},
{"t":310.5,"u":-0.007,"n":0.008,"e":0.008},
{"t":311.5,"u":0.012,"n":-0.010,"e":-0.007},
{"t":312.5,"u":-0.010,"n":0.011,"e":0.011},
{"t":313.5,"u":0.008,"n":-0.009,"e":-0.010},
{"t":314.5,"u":-0.012,"n":0.011,"e":-0.012},
{"t":315.5,"u":0.010,"n":-0.010,"e":0.010},
{"t":316.5,"u":-0.004,"n":0.012,"e":-0.011},
{"t":317.5,"u":0.012,"n":-0.007,"e":0.012},
{"t":318.5,"u":-0.010,"n":0.009,"e":-0.007},
{"t":319.5,"u":-0.007,"n":-0.011,"e":0.009},
{"t":320.5,"u":0.012,"n":0.010,"e":0.009},
{"t":321.5,"u":-0.008,"n":-0.012,"e":-0.011},
{"t":322.5,"u":0.009,"n":0.008,"e":0.012},
{"t":323.5,"u":-0.011,"n":-0.006,"e":-0.008},
{"t":324.5,"u":-0.006,"n":0.010,"e":0.010},
{"t":325.5,"u":0.011,"n":-0.009,"e":-0.012},
{"t":326.5,"u":-0.012,"n":0.012,"e":0.008},
{"t":327.5,"u":0.007,"n":-0.011,"e":-0.007},
{"t":328.5,"u":0.010,"n":0.008,"e":0.011},
{"t":329.5,"u":-0.009,"n":-0.010,"e":-0.010},
{"t":330.5,"u":-0.011,"n":0.012,"e":-0.011},
{"t":331.5,"u":0.010,"n":-0.007,"e":0.012},
{"t":332.5,"u":-0.007,"n":0.009,"e":-0.008},
{"t":333.5,"u":0.012,"n":-0.012,"e":0.010},
{"t":334.5,"u":-0.009,"n":0.010,"e":-0.012},
{"t":335.5,"u":0.008,"n":-0.008,"e":0.009},
{"t":336.5,"u":-0.012,"n":0.011,"e":-0.010},
{"t":337.5,"u":0.006,"n":-0.011,"e":0.011},
{"t":338.5,"u":0.011,"n":0.006,"e":-0.006},
{"t":339.5,"u":-0.010,"n":0.010,"e":0.012},
{"t":340.5,"u":0.009,"n":-0.009,"e":-0.009},
{"t":341.5,"u":-0.012,"n":0.012,"e":0.011},
{"t":342.5,"u":0.010,"n":-0.010,"e":-0.012},
{"t":343.5,"u":0.009,"n":-0.009,"e":0.012},
{"t":344.5,"u":-0.012,"n":0.012,"e":-0.007},
{"t":345.5,"u":0.010,"n":-0.010,"e":0.011},
{"t":346.5,"u":-0.006,"n":0.008,"e":-0.010},
{"t":347.5,"u":0.011,"n":-0.011,"e":0.009},
{"t":348.5,"u":-0.009,"n":0.007,"e":-0.012},
{"t":349.5,"u":0.007,"n":-0.006,"e":0.008}
]},
"vconcat": [
{
  "width": 576, "height": 135,
  "layer": [
    {"mark": {"type": "line", "color": "#ff0000", "strokeWidth": 1.2, "clip": true},
     "encoding": {
       "x": {"field": "t", "type": "quantitative", "scale": {"domain": [0, 350], "nice": false, "zero": false},
             "axis": {"orient": "bottom", "values": [0,10,20,30,40,50,60,70,80,90,100,110,120,130,140,150,160,170,180,190,200,210,220,230,240,250,260,270,280,290,300,310,320,330,340], "tickSize": -9, "labels": false, "title": null,
                      "encode": {"ticks": {"y2": {"condition": {"test": "datum.value % 50 === 0", "value": -9}, "value": -4.5}}}}},
       "y": {"field": "u", "type": "quantitative", "scale": {"domain": [-0.152, 0.148], "nice": false, "zero": false},
             "axis": {"orient": "left", "values": [-0.15,-0.1,-0.05,0,0.05,0.1], "format": ".1f", "tickSize": -9, "labelPadding": 12, "minExtent": 24, "maxExtent": 24, "title": null,
                      "labelExpr": "round(datum.value*100) % 10 === 0 ? datum.label : ''",
                      "encode": {"ticks": {"x2": {"condition": {"test": "round(datum.value*100) % 10 === 0", "value": 9}, "value": 4.5}}}}}
     }},
    {"data": {"values": [{"lab": "CTEC\u00a0\u00a0\u00a0UD"}]},
     "mark": {"type": "text", "align": "right", "baseline": "middle", "fontSize": 11, "color": "#808080", "font": "Liberation Sans Narrow, DejaVu Sans Condensed, Liberation Sans, sans-serif"},
     "encoding": {
       "x": {"datum": 341, "type": "quantitative", "scale": {"domain": [0, 350], "nice": false, "zero": false},
             "axis": {"orient": "top", "values": [0,10,20,30,40,50,60,70,80,90,100,110,120,130,140,150,160,170,180,190,200,210,220,230,240,250,260,270,280,290,300,310,320,330,340], "tickSize": -9, "labels": false, "title": null,
                      "encode": {"ticks": {"y2": {"condition": {"test": "datum.value % 50 === 0", "value": 9}, "value": 4.5}}}}},
       "y": {"datum": 0.101, "type": "quantitative", "scale": {"domain": [-0.152, 0.148], "nice": false, "zero": false},
             "axis": {"orient": "right", "values": [-0.15,-0.1,-0.05,0,0.05,0.1], "tickSize": -9, "labels": false, "title": null,
                      "encode": {"ticks": {"x2": {"condition": {"test": "round(datum.value*100) % 10 === 0", "value": -9}, "value": -4.5}}}}},
       "text": {"field": "lab"}
     }}
  ],
  "resolve": {"axis": {"x": "independent", "y": "independent"}}
},
{
  "width": 576, "height": 135,
  "layer": [
    {"mark": {"type": "line", "color": "#ff0000", "strokeWidth": 1.2, "clip": true},
     "encoding": {
       "x": {"field": "t", "type": "quantitative", "scale": {"domain": [0, 350], "nice": false, "zero": false},
             "axis": {"orient": "bottom", "values": [0,10,20,30,40,50,60,70,80,90,100,110,120,130,140,150,160,170,180,190,200,210,220,230,240,250,260,270,280,290,300,310,320,330,340], "tickSize": -9, "labels": false, "title": null,
                      "encode": {"ticks": {"y2": {"condition": {"test": "datum.value % 50 === 0", "value": -9}, "value": -4.5}}}}},
       "y": {"field": "n", "type": "quantitative", "scale": {"domain": [-0.186, 0.178], "nice": false, "zero": false},
             "axis": {"orient": "left", "values": [-0.15,-0.1,-0.05,0,0.05,0.1,0.15], "format": ".1f", "tickSize": -9, "labelPadding": 12, "minExtent": 24, "maxExtent": 24, "title": "Amplitud [cm/s/s]", "titlePadding": 4,
                      "labelExpr": "round(datum.value*100) % 10 === 0 ? datum.label : ''",
                      "encode": {"ticks": {"x2": {"condition": {"test": "round(datum.value*100) % 10 === 0", "value": 9}, "value": 4.5}}}}}
     }},
    {"data": {"values": [{"lab": "CTEC\u00a0\u00a0\u00a0NS"}]},
     "mark": {"type": "text", "align": "right", "baseline": "middle", "fontSize": 11, "color": "#808080", "font": "Liberation Sans Narrow, DejaVu Sans Condensed, Liberation Sans, sans-serif"},
     "encoding": {
       "x": {"datum": 341, "type": "quantitative", "scale": {"domain": [0, 350], "nice": false, "zero": false},
             "axis": {"orient": "top", "values": [0,10,20,30,40,50,60,70,80,90,100,110,120,130,140,150,160,170,180,190,200,210,220,230,240,250,260,270,280,290,300,310,320,330,340], "tickSize": -9, "labels": false, "title": null,
                      "encode": {"ticks": {"y2": {"condition": {"test": "datum.value % 50 === 0", "value": 9}, "value": 4.5}}}}},
       "y": {"datum": 0.121, "type": "quantitative", "scale": {"domain": [-0.186, 0.178], "nice": false, "zero": false},
             "axis": {"orient": "right", "values": [-0.15,-0.1,-0.05,0,0.05,0.1,0.15], "tickSize": -9, "labels": false, "title": null,
                      "encode": {"ticks": {"x2": {"condition": {"test": "round(datum.value*100) % 10 === 0", "value": -9}, "value": -4.5}}}}},
       "text": {"field": "lab"}
     }}
  ],
  "resolve": {"axis": {"x": "independent", "y": "independent"}}
},
{
  "width": 576, "height": 135,
  "layer": [
    {"mark": {"type": "line", "color": "#ff0000", "strokeWidth": 1.2, "clip": true},
     "encoding": {
       "x": {"field": "t", "type": "quantitative", "scale": {"domain": [0, 350], "nice": false, "zero": false},
             "axis": {"orient": "bottom", "values": [0,10,20,30,40,50,60,70,80,90,100,110,120,130,140,150,160,170,180,190,200,210,220,230,240,250,260,270,280,290,300,310,320,330,340], "tickSize": -9, "labelPadding": 13, "title": "Tiempo [s]", "titlePadding": 6,
                      "labelExpr": "datum.value % 50 === 0 ? datum.label : ''",
                      "encode": {"ticks": {"y2": {"condition": {"test": "datum.value % 50 === 0", "value": -9}, "value": -4.5}}}}},
       "y": {"field": "e", "type": "quantitative", "scale": {"domain": [-0.195, 0.196], "nice": false, "zero": false},
             "axis": {"orient": "left", "values": [-0.15,-0.1,-0.05,0,0.05,0.1,0.15], "format": ".1f", "tickSize": -9, "labelPadding": 12, "minExtent": 24, "maxExtent": 24, "title": null,
                      "labelExpr": "round(datum.value*100) % 10 === 0 ? datum.label : ''",
                      "encode": {"ticks": {"x2": {"condition": {"test": "round(datum.value*100) % 10 === 0", "value": 9}, "value": 4.5}}}}}
     }},
    {"data": {"values": [{"lab": "CTEC\u00a0\u00a0\u00a0EW"}]},
     "mark": {"type": "text", "align": "right", "baseline": "middle", "fontSize": 11, "color": "#808080", "font": "Liberation Sans Narrow, DejaVu Sans Condensed, Liberation Sans, sans-serif"},
     "encoding": {
       "x": {"datum": 341, "type": "quantitative", "scale": {"domain": [0, 350], "nice": false, "zero": false},
             "axis": {"orient": "top", "values": [0,10,20,30,40,50,60,70,80,90,100,110,120,130,140,150,160,170,180,190,200,210,220,230,240,250,260,270,280,290,300,310,320,330,340], "tickSize": -9, "labels": false, "title": null,
                      "encode": {"ticks": {"y2": {"condition": {"test": "datum.value % 50 === 0", "value": 9}, "value": 4.5}}}}},
       "y": {"datum": 0.135, "type": "quantitative", "scale": {"domain": [-0.195, 0.196], "nice": false, "zero": false},
             "axis": {"orient": "right", "values": [-0.15,-0.1,-0.05,0,0.05,0.1,0.15], "tickSize": -9, "labels": false, "title": null,
                      "encode": {"ticks": {"x2": {"condition": {"test": "round(datum.value*100) % 10 === 0", "value": -9}, "value": -4.5}}}}},
       "text": {"field": "lab"}
     }}
  ],
  "resolve": {"axis": {"x": "independent", "y": "independent"}}
}
]
}
